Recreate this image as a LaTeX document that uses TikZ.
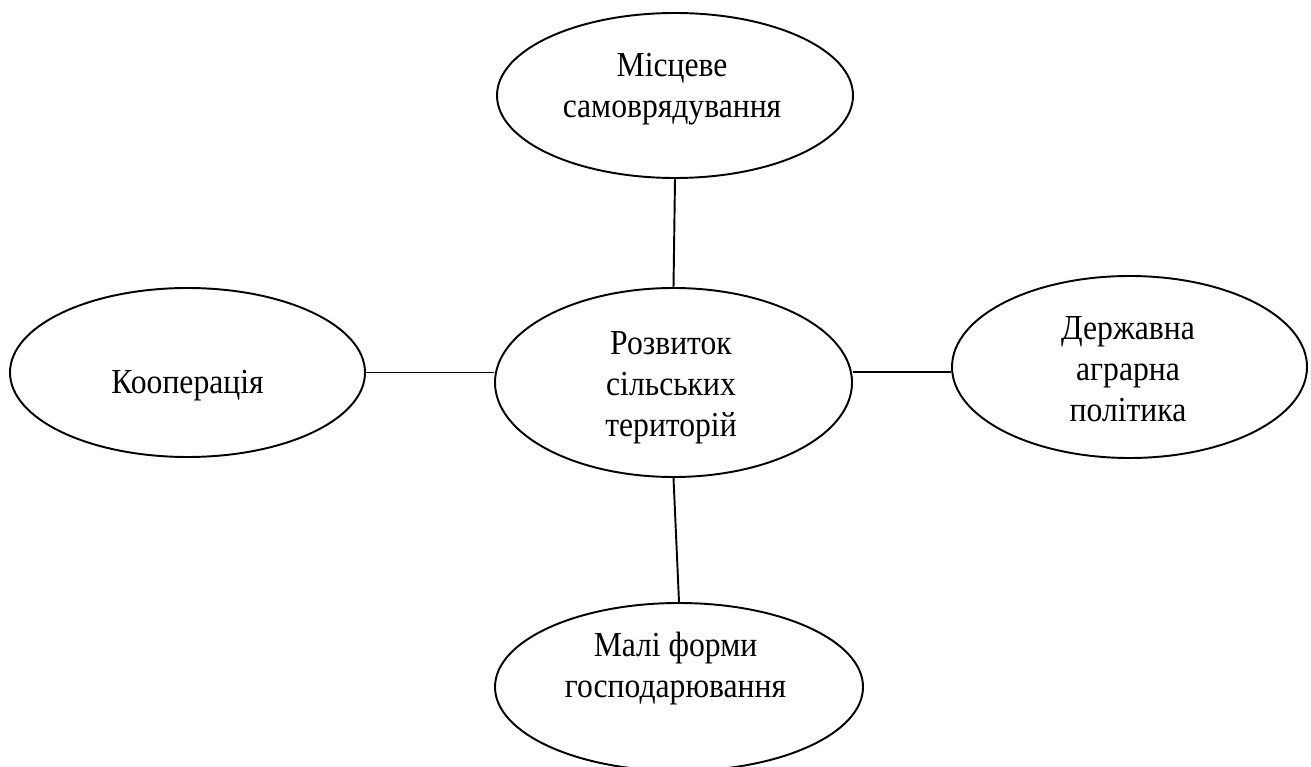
\documentclass[tikz,border=0pt]{standalone}
\usepackage{fontspec}
\setmainfont{Liberation Serif}[FakeStretch=0.9]
\usetikzlibrary{shapes.geometric}

\begin{document}
\begin{tikzpicture}[
    bubble/.style={draw, ellipse, line width=1.1pt, inner sep=0pt},
    caption/.style={align=center, inner sep=0pt, font=\fontsize{20}{23.3}\selectfont},
    link/.style={line width=1.1pt}]
    \clip (0,0) rectangle (26.22,-15.34);
    % Centrale
    \node[bubble, minimum width=7.14cm, minimum height=3.78cm] (rozvytok) at (13.47,-7.65) {};
    \node[caption] (rozvytok-t) at (13.42,-7.75) {Розвиток\\сільських\\територій};
    % Intorno
    \node[bubble, minimum width=7.12cm, minimum height=3.3cm] (samovr) at (13.5,-1.91) {};
    \node[caption] (samovr-t) at (13.44,-1.78) {Місцеве\\самоврядування};
    \node[bubble, minimum width=7.1cm, minimum height=3.38cm] (koop) at (3.75,-7.45) {};
    \node[caption] (koop-t) at (3.75,-7.72) {Кооперація};
    \node[bubble, minimum width=7.1cm, minimum height=3.64cm] (polityka) at (22.59,-7.34) {};
    \node[caption] (polityka-t) at (22.56,-7.38) {Державна\\аграрна\\політика};
    \node[bubble, minimum width=7.36cm, minimum height=3.36cm] (formy) at (13.58,-13.74) {};
    \node[caption] (formy-t) at (13.51,-13.38) {Малі форми\\господарювання};
    % Collegamenti
    \draw[link] (samovr.south) -- (rozvytok.north);
    \draw[link] (koop.east) -- (koop.east -| rozvytok.west);
    \draw[link] ([yshift=-0.1cm]polityka.west -| rozvytok.east) -- ([yshift=-0.1cm]polityka.west);
    \draw[link] (rozvytok.south) -- (formy.north);
\end{tikzpicture}
\end{document}
